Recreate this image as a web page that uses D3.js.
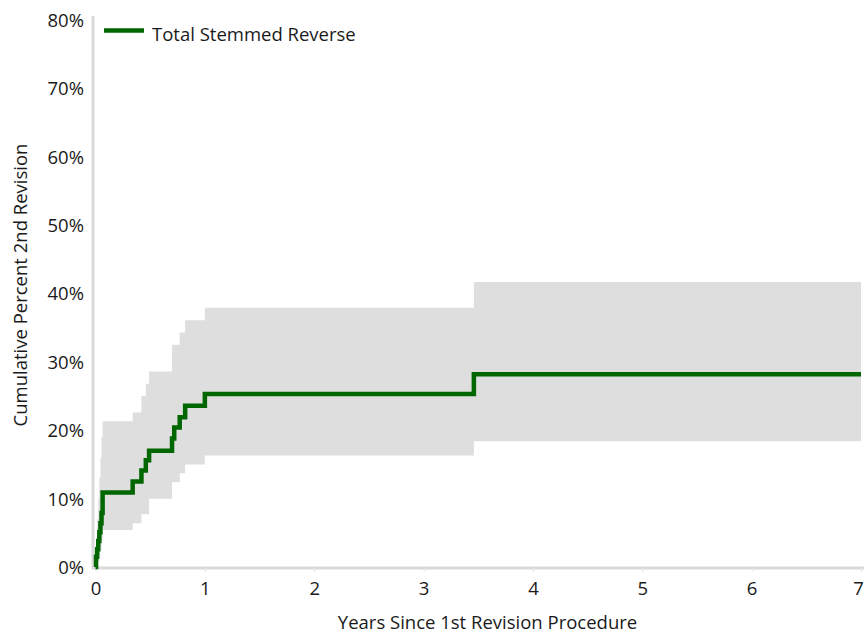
<!DOCTYPE html>
<html>
<head>
<meta charset="utf-8">
<script src="https://cdn.jsdelivr.net/npm/d3@7"></script>
<style>
  body { margin: 0; background: #fff; }
  text { font-family: "Open Sans", "Noto Sans", sans-serif; fill: #1a1a1a; }
</style>
</head>
<body>
<div id="chart"></div>
<script>
// step times (years) where the estimate changes
const years = [0, 0.005, 0.015, 0.025, 0.035, 0.045, 0.055, 0.065, 0.34, 0.42, 0.46, 0.49, 0.70, 0.72, 0.77, 0.82, 1.00, 3.46, 7];
// cumulative percent 2nd revision
const cumPct = [0, 1.5, 2.6, 3.8, 5.1, 6.4, 7.9, 10.9, 12.5, 14.1, 15.6, 17.0, 18.8, 20.4, 21.9, 23.6, 25.3, 28.2, 28.2];
// confidence band
const upperPct = [0, 4, 7, 10, 13, 16, 19, 21.3, 22.6, 25.0, 26.8, 28.6, 32.5, 32.5, 34.3, 36.1, 37.9, 41.7, 41.7];
const lowerPct = [0, 0, 0.3, 0.8, 1.5, 2.5, 3.8, 5.4, 6.4, 7.7, 7.7, 10.0, 12.4, 12.4, 13.7, 15.0, 16.3, 18.4, 18.4];

const xTicks = [0, 1, 2, 3, 4, 5, 6, 7];
const yTicks = [0, 10, 20, 30, 40, 50, 60, 70, 80];
const seriesName = "Total Stemmed Reverse";

const data = years.map((t, i) => ({ t: t, v: cumPct[i], hi: upperPct[i], lo: lowerPct[i] }));

const width = 864, height = 633;
const margin = { top: 20, right: 3, bottom: 66, left: 95.5 };
const fs = 18.5;

const svg = d3.select("#chart").append("svg")
    .attr("width", width)
    .attr("height", height);

const x = d3.scaleLinear().domain([0, 7]).range([margin.left, width - margin.right]);
const y = d3.scaleLinear().domain([0, 80]).range([height - margin.bottom, margin.top]);

// confidence band
const band = d3.area()
    .curve(d3.curveStepAfter)
    .x(d => x(d.t))
    .y0(d => y(d.lo))
    .y1(d => y(d.hi));

svg.append("path")
    .datum(data)
    .attr("d", band)
    .attr("fill", "#dedede");

// axes
const yAxis = svg.append("g")
    .attr("transform", `translate(${margin.left - 2.5},0)`)
    .call(d3.axisLeft(y).tickValues(yTicks).tickFormat(d => d + "%").tickSize(0).tickPadding(9));
yAxis.select(".domain").attr("stroke", "#d9d9d9").attr("stroke-width", 3)
    .attr("d", `M0,${margin.top - 4}V${y(0)}`);
yAxis.selectAll("text").attr("font-size", fs).attr("dy", "0.35em");

const xAxis = svg.append("g")
    .attr("transform", `translate(0,${y(0) + 1})`)
    .call(d3.axisBottom(x).tickValues(xTicks).tickFormat(d3.format("d")).tickSize(4).tickPadding(10));
xAxis.select(".domain").attr("stroke", "#d9d9d9").attr("stroke-width", 3)
    .attr("d", `M${margin.left - 4},0H${width}`);
xAxis.selectAll(".tick line").attr("stroke", "#e6e6e6");
xAxis.selectAll("text").attr("font-size", fs);
// last label sits on the right edge, nudge it in
xAxis.selectAll(".tick text").filter(d => d === 7).attr("dx", -3);

// km line
const line = d3.line()
    .curve(d3.curveStepAfter)
    .x(d => x(d.t))
    .y(d => y(d.v));

svg.append("path")
    .datum(data)
    .attr("d", line)
    .attr("fill", "none")
    .attr("stroke", "#006600")
    .attr("stroke-width", 4.5)
    .attr("stroke-linejoin", "miter");

// axis titles
svg.append("text")
    .attr("x", 487.5)
    .attr("y", 629)
    .attr("text-anchor", "middle")
    .attr("font-size", fs)
    .text("Years Since 1st Revision Procedure");

svg.append("text")
    .attr("transform", `translate(26.5,285) rotate(-90)`)
    .attr("text-anchor", "middle")
    .attr("font-size", fs)
    .text("Cumulative Percent 2nd Revision");

// legend
const legend = svg.append("g").attr("transform", "translate(104,30.5)");
legend.append("line")
    .attr("x1", 0).attr("x2", 40)
    .attr("stroke", "#006600").attr("stroke-width", 4.5);
legend.append("text")
    .attr("x", 48).attr("y", 4.5).attr("dy", "0.35em")
    .attr("font-size", fs)
    .text(seriesName);
</script>
</body>
</html>
